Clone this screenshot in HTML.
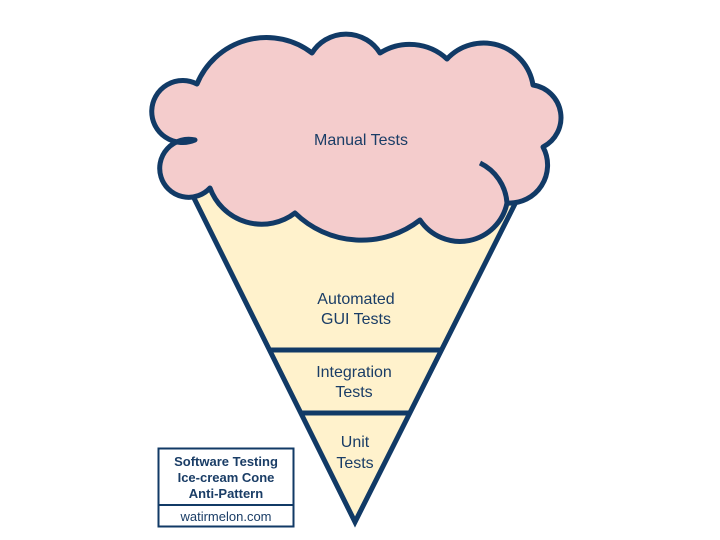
<!DOCTYPE html>
<html><head><style>body{margin:0;background:#fff}svg{display:block}</style></head><body>
<svg width="720" height="540" viewBox="0 0 720 540" xmlns="http://www.w3.org/2000/svg" font-family="Liberation Sans, sans-serif" fill="#1a3d66">
<path d="M185,180 L527,180 L355,522 Z" fill="#fff2cc" stroke="#113a66" stroke-width="5" stroke-linejoin="miter"/>
<line x1="270" y1="350" x2="441" y2="350" stroke="#113a66" stroke-width="5"/>
<line x1="301" y1="413" x2="410" y2="413" stroke="#113a66" stroke-width="5"/>
<path d="M197,84 A75,75 0 0 1 312,53 A40,40 0 0 1 380,53 A55,55 0 0 1 447,59 A50,50 0 0 1 533,85 A33,33 0 0 1 543,147 A38,38 0 0 1 507,203 A48,48 0 0 1 420,220 A95,95 0 0 1 295,213 A55,55 0 0 1 210,188 A29,29 0 1 1 195,140 A31,31 0 1 1 197,84 Z" fill="#f4cccc" stroke="#113a66" stroke-width="5" stroke-linejoin="round"/>
<path d="M480,163 A48,48 0 0 1 507,203" fill="none" stroke="#113a66" stroke-width="5"/>
<g font-size="16" text-anchor="middle">
<text x="361" y="145">Manual Tests</text>
<text x="356" y="304">Automated</text>
<text x="356" y="324">GUI Tests</text>
<text x="354" y="377">Integration</text>
<text x="354" y="397">Tests</text>
<text x="355" y="447">Unit</text>
<text x="355" y="468">Tests</text>
</g>
<rect x="158.5" y="448.5" width="135" height="78" fill="#fff" stroke="#113a66" stroke-width="2"/>
<line x1="158" y1="505" x2="294" y2="505" stroke="#113a66" stroke-width="2"/>
<g font-size="13" font-weight="bold" text-anchor="middle">
<text x="226" y="466">Software Testing</text>
<text x="226" y="482">Ice-cream Cone</text>
<text x="226" y="498">Anti-Pattern</text>
</g>
<text x="226" y="521" font-size="13" text-anchor="middle">watirmelon.com</text>
</svg>
</body></html>
